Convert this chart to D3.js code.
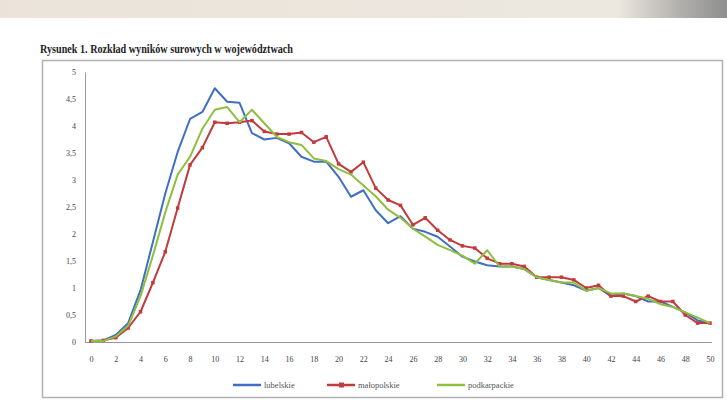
<!DOCTYPE html>
<html>
<head>
<meta charset="utf-8">
<script src="https://cdn.jsdelivr.net/npm/d3@7"></script>
<style>
body { margin: 0; background: #fff; }
svg { display: block; }
</style>
</head>
<body>
<div id="chart"></div>
<script>
var width = 727;
var height = 410;

// wyniki surowe 0..50
var scores = d3.range(0, 51);
var lubelskie = [0.02, 0.03, 0.13, 0.35, 0.96, 1.85, 2.75, 3.52, 4.13, 4.26, 4.7, 4.45, 4.43, 3.87, 3.75, 3.78, 3.68, 3.43, 3.34, 3.34,
	3.06, 2.69, 2.81, 2.44, 2.2, 2.33, 2.1, 2.04, 1.95, 1.77, 1.58, 1.49, 1.42, 1.4, 1.4, 1.35, 1.2, 1.15, 1.1, 1.05,
	0.95, 1.0, 0.85, 0.9, 0.85, 0.75, 0.75, 0.65, 0.55, 0.4, 0.35];
var malopolskie = [0.02, 0.03, 0.08, 0.26, 0.56, 1.1, 1.67, 2.48, 3.28, 3.6, 4.07, 4.05, 4.07, 4.1, 3.9, 3.85, 3.85, 3.88, 3.7, 3.8,
	3.3, 3.15, 3.33, 2.85, 2.63, 2.53, 2.17, 2.3, 2.07, 1.89, 1.78, 1.74, 1.55, 1.45, 1.45, 1.4, 1.2, 1.2, 1.2, 1.15,
	1.0, 1.05, 0.85, 0.85, 0.75, 0.85, 0.75, 0.75, 0.5, 0.35, 0.35];
var podkarpackie = [0.02, 0.02, 0.1, 0.3, 0.85, 1.6, 2.4, 3.1, 3.43, 3.95, 4.3, 4.35, 4.07, 4.3, 4.05, 3.8, 3.7, 3.65, 3.4, 3.35,
	3.2, 3.1, 2.9, 2.7, 2.45, 2.3, 2.1, 1.95, 1.8, 1.7, 1.6, 1.45, 1.7, 1.4, 1.4, 1.35, 1.2, 1.15, 1.1, 1.1,
	0.95, 1.0, 0.9, 0.9, 0.85, 0.8, 0.7, 0.65, 0.55, 0.45, 0.35];
var yTicks = [0, 0.5, 1, 1.5, 2, 2.5, 3, 3.5, 4, 4.5, 5];
var xTicks = d3.range(0, 51, 2);
var seriesNames = ["lubelskie", "małopolskie", "podkarpackie"];
var seriesColors = ["#3f6fc2", "#c33a3c", "#8fbf3f"];

var series = [
	{name: seriesNames[0], values: lubelskie, color: seriesColors[0], marker: false},
	{name: seriesNames[1], values: malopolskie, color: seriesColors[1], marker: true},
	{name: seriesNames[2], values: podkarpackie, color: seriesColors[2], marker: false}
];

var svg = d3.select("#chart").append("svg")
	.attr("width", width)
	.attr("height", height);

//top band (screenshot frame)
var grad = svg.append("defs").append("linearGradient")
	.attr("id", "band")
	.attr("x1", "0").attr("x2", "1").attr("y1", "0").attr("y2", "0");
grad.append("stop").attr("offset", "0").attr("stop-color", "#ebe3da");
grad.append("stop").attr("offset", "0.85").attr("stop-color", "#ece8df");
grad.append("stop").attr("offset", "0.93").attr("stop-color", "#b5b3b0");
grad.append("stop").attr("offset", "1").attr("stop-color", "#8e8e8e");
svg.append("rect")
	.attr("x", 0).attr("y", 0)
	.attr("width", width).attr("height", 18)
	.attr("fill", "url(#band)");

//title
svg.append("text")
	.attr("x", 40)
	.attr("y", 53)
	.attr("font-family", "Liberation Serif, serif")
	.attr("font-weight", "bold")
	.attr("font-size", 11.5)
	.attr("fill", "#222")
	.attr("textLength", 253)
	.attr("lengthAdjust", "spacingAndGlyphs")
	.text("Rysunek 1.  Rozkład wyników surowych w województwach");

//chart box
svg.append("rect")
	.attr("x", 42.5).attr("y", 60.5)
	.attr("width", 680).attr("height", 337)
	.attr("fill", "#fff")
	.attr("stroke", "#b0b0b0")
	.attr("stroke-width", 1.5);

var x = d3.scaleLinear().domain([0, 50]).range([91, 710]);
var y = d3.scaleLinear().domain([0, 5]).range([342, 72]);

var fmt = function(d) { return String(d).replace(".", ","); };

//y axis
var yAxis = svg.append("g")
	.attr("transform", "translate(85,0)")
	.call(d3.axisLeft(y).tickValues(yTicks).tickSize(0).tickPadding(9).tickFormat(fmt));
yAxis.select(".domain").attr("stroke", "#9a9a9a");
yAxis.selectAll("text")
	.attr("font-family", "Liberation Serif, serif")
	.attr("font-size", 8)
	.attr("fill", "#444");

//x axis
var xAxis = svg.append("g")
	.attr("transform", "translate(0,342)")
	.call(d3.axisBottom(x).tickValues(xTicks).tickSize(0).tickPadding(14));
xAxis.select(".domain").attr("d", "M85,0.5H712").attr("stroke", "#9a9a9a");
xAxis.selectAll("text")
	.attr("font-family", "Liberation Serif, serif")
	.attr("font-size", 8)
	.attr("fill", "#444");

var line = d3.line()
	.x(function(d, i) { return x(scores[i]); })
	.y(function(d) { return y(d); });

series.forEach(function(s) {
	svg.append("path")
		.datum(s.values)
		.attr("fill", "none")
		.attr("stroke", s.color)
		.attr("stroke-width", 2)
		.attr("stroke-linejoin", "round")
		.attr("d", line);
	if (s.marker) {
		svg.append("g").selectAll("rect")
			.data(s.values)
			.join("rect")
			.attr("x", function(d, i) { return x(scores[i]) - 1.75; })
			.attr("y", function(d) { return y(d) - 1.75; })
			.attr("width", 3.5).attr("height", 3.5)
			.attr("fill", s.color);
	}
});

//legend
var legendX = [233, 327, 437];
var legend = svg.append("g");
series.forEach(function(s, i) {
	var g = legend.append("g").attr("transform", "translate(" + legendX[i] + ",385)");
	g.append("line")
		.attr("x1", 0).attr("x2", 28)
		.attr("y1", 0).attr("y2", 0)
		.attr("stroke", s.color)
		.attr("stroke-width", 2.5);
	if (s.marker) {
		g.append("rect").attr("x", 12).attr("y", -2.5).attr("width", 5).attr("height", 5).attr("fill", s.color);
	}
	g.append("text")
		.attr("x", 31)
		.attr("y", 3)
		.attr("font-family", "Liberation Serif, serif")
		.attr("font-size", 8.5)
		.attr("fill", "#555")
		.text(s.name);
});
</script>
</body>
</html>
